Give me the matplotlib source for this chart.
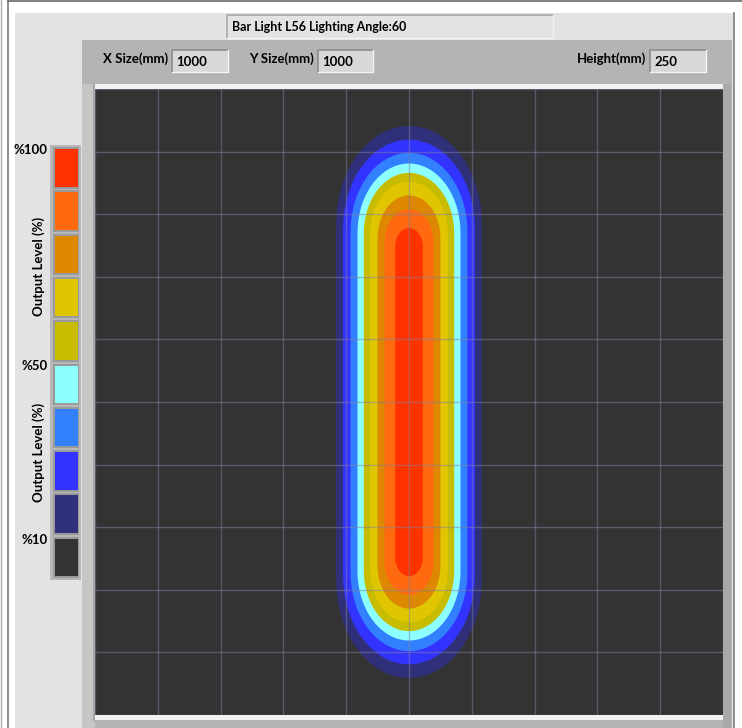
import numpy as np
import matplotlib
matplotlib.use('Agg')
import matplotlib.pyplot as plt
from matplotlib.patches import Rectangle, Polygon

plt.rcParams['font.family'] = ['Lato', 'DejaVu Sans']

# --- values ---
title = 'Bar Light L56 Lighting Angle:60'
x_size_mm = 1000
y_size_mm = 1000
height_mm = 250

# contour bands, innermost (100%) to outermost
band_colors = ['#ff3300', '#ff6a10', '#dd8800', '#e0c600', '#c8bc00',
               '#8cffff', '#3380ff', '#3333ff', '#30307a']
half_width_mm = [22, 39, 50, 62, 72, 82, 93, 105, 116]
half_length_mm = [278, 308, 330, 352, 366, 381, 398, 419, 441]
cap_mm = [30, 53, 68, 84, 97, 111, 126, 142, 157]

# legend boxes top to bottom
legend_colors = band_colors + ['#333333']
legend_labels = {0: '%100', 5: '%50', 9: '%10'}

W, H = 742, 728
FS = 9.5
fig = plt.figure(figsize=(W / 100, H / 100), dpi=100)
fig.patch.set_facecolor('white')

# UI frame drawn in pixel coordinates
ui = fig.add_axes([0, 0, 1, 1])
ui.set_xlim(0, W)
ui.set_ylim(H, 0)
ui.axis('off')


def rect(x0, y0, x1, y1, fc, ec='none', lw=0, z=1):
    ui.add_patch(Rectangle((x0, y0), x1 - x0, y1 - y0, facecolor=fc,
                           edgecolor=ec, linewidth=lw, zorder=z))


def inset_box(x0, y0, x1, y1, fc, dark='#8c8c8c'):
    rect(x0, y0, x1, y1, fc, z=3)
    ui.plot([x0, x0, x1], [y1, y0, y0], color=dark, lw=1.2, zorder=4)
    ui.plot([x0, x1, x1], [y1, y1, y0], color='#f4f4f4', lw=1.0, zorder=4)


# outer window lines
ui.plot([1, 1], [0, H], color='#b0b0b0', lw=1)
ui.plot([8, 8], [0, H], color='#7a7a7a', lw=1.2)
ui.plot([8, W], [1, 1], color='#6a6a6a', lw=1.2)
rect(15, 13, 733, H, '#e3e3e3')
ui.plot([734, 734], [13, H], color='#7a7a7a', lw=1.2)

# title box
inset_box(227, 15, 553, 38, '#e3e3e3', dark='#a8a8a8')
ui.text(232, 27, title, fontsize=9, fontweight='bold', va='center',
        ha='left', zorder=5)

# grey graph panel
rect(82, 40, 732, H, '#b4b4b4', z=2)
rect(82, 84, 95, H, '#c6c6c6', z=2)
ui.plot([94, 94], [84, 720], color='#a0a0a0', lw=1.2, zorder=3)
rect(723, 84, 731, H, '#a8a8a8', z=2)
rect(95, 84, 723, 89, '#f2f2f2', z=3)
rect(95, 715, 723, 720, '#f2f2f2', z=3)

# size fields
fields = [('X Size(mm)', x_size_mm, 103, 172, 228),
          ('Y Size(mm)', y_size_mm, 249, 318, 373),
          ('Height(mm)', height_mm, 577, 650, 706)]
for label, val, lx, bx0, bx1 in fields:
    ui.text(lx, 59, label, fontsize=FS, fontweight='bold', va='center',
            ha='left', zorder=5)
    inset_box(bx0, 50, bx1, 72, '#d8d8d8')
    ui.text(bx0 + 4, 62, str(val), fontsize=FS, fontweight='bold',
            va='center', ha='left', zorder=5)

# legend colour column
box_top, box_step, box_h = 149, 43.3, 37.5
rect(50, box_top - 4, 81, box_top + box_step * 9 + box_h + 4, '#b8b8b8', z=2)
for i, c in enumerate(legend_colors):
    y0 = box_top + i * box_step
    rect(53, y0 - 2, 79, y0 + box_h + 2, '#9a9a9a', z=3)
    rect(55, y0, 77.5, y0 + box_h, c, z=4)
    if i in legend_labels:
        ui.text(48, y0 + 1, legend_labels[i], fontsize=FS, fontweight='bold',
                ha='right', va='center', zorder=5)
for yc in [266, 452]:
    ui.text(39, yc, 'Output Level (%)', fontsize=FS, fontweight='bold',
            rotation=90, ha='center', va='center', zorder=5)

# intensity map
ax = fig.add_axes([95 / W, 1 - 715 / H, 628 / W, 626 / H])
ax.set_facecolor('#333333')
ax.set_xlim(-x_size_mm / 2, x_size_mm / 2)
ax.set_ylim(-y_size_mm / 2, y_size_mm / 2)
for s in ax.spines.values():
    s.set_visible(False)
ax.set_xticks(np.arange(-x_size_mm / 2, x_size_mm / 2 + 1, 100))
ax.set_yticks(np.arange(-y_size_mm / 2, y_size_mm / 2 + 1, 100))
ax.tick_params(length=0, labelbottom=False, labelleft=False)
ax.set_axisbelow(False)
ax.grid(True, color='#8080a0', alpha=0.5, lw=1.0)

t = np.linspace(0, np.pi, 60)
for hw, hl, cap, c in reversed(list(zip(half_width_mm, half_length_mm,
                                        cap_mm, band_colors))):
    top = np.column_stack([hw * np.cos(t), (hl - cap) + cap * np.sin(t)])
    bot = np.column_stack([-hw * np.cos(t), -(hl - cap) - cap * np.sin(t)])
    ax.add_patch(Polygon(np.vstack([top, bot]), closed=True, facecolor=c,
                         edgecolor='none', zorder=1))

fig.savefig('out.png', dpi=100)
